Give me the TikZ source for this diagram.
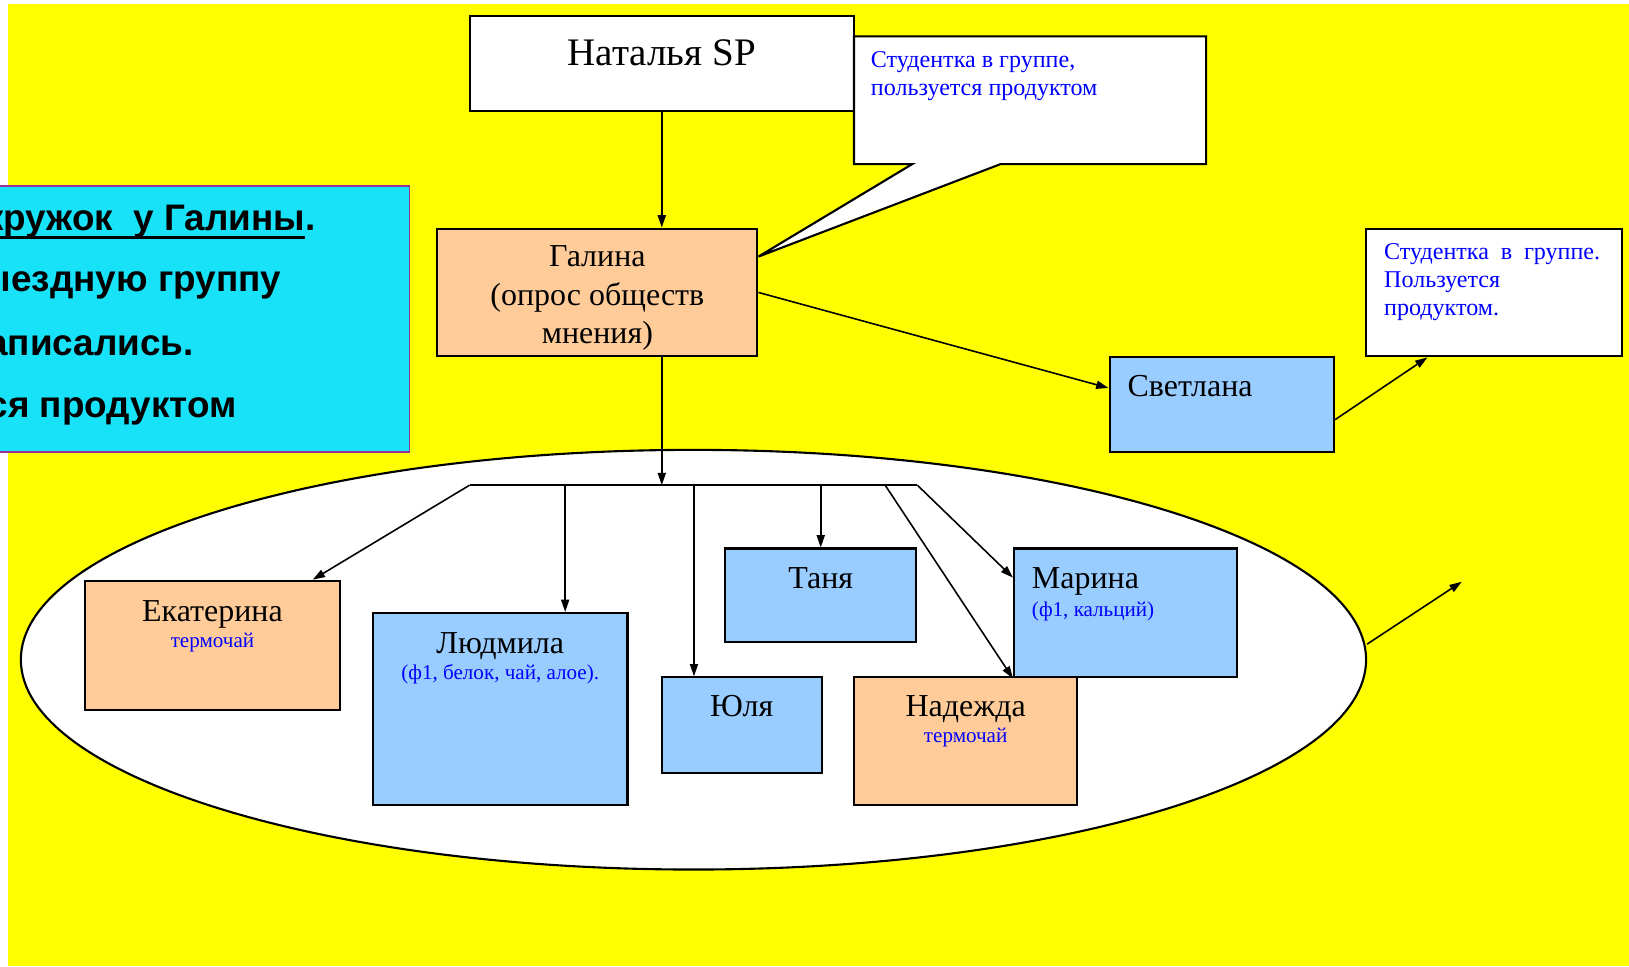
\documentclass[tikz,border=0pt]{standalone}
\usepackage{fontspec}
\setmainfont{Liberation Serif}
\setsansfont{Liberation Sans}
\usetikzlibrary{arrows.meta,calc,fit,positioning,shapes.geometric}

\definecolor{bgyellow}{RGB}{255,255,0}
\definecolor{peach}{RGB}{255,204,153}
\definecolor{skyblue}{RGB}{153,204,255}
\definecolor{memocyan}{RGB}{24,226,248}
\definecolor{memoframe}{RGB}{153,51,153}

\newsavebox{\ulbox}
\newcommand{\ulspan}[1]{\sbox{\ulbox}{#1}\rlap{\rule[-4.6pt]{\wd\ulbox}{1.8pt}}\usebox{\ulbox}}

\begin{document}
\begin{tikzpicture}[x=0.02078cm, y=-0.02078cm,
    box_style/.style={draw=black, line width=1.2pt, inner sep=0pt},
    name_style/.style={inner sep=0pt, font=\fontsize{18.2}{22}\selectfont},
    note_style/.style={inner sep=0pt, text=blue, font=\fontsize{12}{14.5}\selectfont},
    call_style/.style={inner sep=0pt, text=blue, align=left, anchor=north west, font=\fontsize{13.7}{16.1}\selectfont},
    memo_style/.style={inner sep=0pt, anchor=base east, font=\sffamily\bfseries\fontsize{21}{24}\selectfont},
    arrow_style/.style={draw=black, line width=0.9pt, -{Triangle[length=7pt,width=4.6pt]}},
    line_style/.style={draw=black, line width=0.9pt}]

  \clip (0,0) rectangle (1568,930);
  \fill[white] (0,0) rectangle (1568,930);
  \fill[bgyellow] (7.7,3.85) rectangle (1568,930);

  % the group
  \node[ellipse, draw=black, line width=1.2pt, fill=white, inner sep=0pt,
        minimum width=26.91cm, minimum height=8.395cm] (group) at (667.5,635) {};

  % memo on the left
  \node[box_style, draw=memoframe, line width=0.8pt, fill=memocyan, fit={(-20,179) (394,435)}] (memo) {};
  \node[memo_style] (memo_1) at (304,222) {\ulspan{кружок\ \ у Галины}.};
  \node[memo_style] (memo_2) at (271,281) {ыездную группу};
  \node[memo_style] (memo_3) at (187,342) {аписались.};
  \node[memo_style] (memo_4) at (228,402) {ся продуктом};

  % top of the tree
  \node[box_style, fill=white, fit={(452,15) (822,107)}] (nat) {};
  \node[inner sep=0pt, anchor=base, font=\fontsize{22.2}{26}\selectfont] (nat_name) at (637,63) {Наталья SP};

  \node[box_style, fill=peach, fit={(421,220) (729,343)}] (gal) {};
  \node[name_style, anchor=north, align=center, font=\fontsize{18.2}{21.8}\selectfont] (gal_name) at (575,236.5)
    {Галина\\(опрос обществ\\мнения)};

  % callout for Galina
  \filldraw[fill=white, draw=black, line width=1.2pt]
    (822,35) -- (1161,35) -- (1161,158) -- (963,158) -- ($(gal.east)+(0,-34.5)$) -- (878,158) -- (822,158) -- cycle;
  \node[call_style] (call_gal) at (838,49) {Студентка в группе,\\пользуется продуктом};

  \node[box_style, fill=skyblue, fit={(1068,344) (1284,435)}] (svet) {};
  \node[name_style, anchor=base west] (svet_name) at (1085,382) {Светлана};

  \node[box_style, fill=white, fit={(1315,220) (1561,343)}] (call_svet) {};
  \node[call_style] (call_svet_text) at (1332,234)
    {\makebox[4.32cm][s]{Студентка в группе.}\\Пользуется\\продуктом.};

  % members
  \node[box_style, fill=peach, fit={(82,559) (327,683)}] (ekat) {};
  \node[name_style, anchor=base] (ekat_name) at (204.5,598) {Екатерина};
  \node[note_style, anchor=base] (ekat_note) at (204.5,623) {термочай};

  \node[box_style, fill=skyblue, fit={(359,590) (604,775)}] (lyud) {};
  \node[name_style, anchor=base] (lyud_name) at (481.5,629) {Людмила};
  \node[note_style, anchor=base] (lyud_note) at (481.5,654) {(ф1, белок, чай, алое).};

  \node[box_style, fill=skyblue, fit={(637,652) (791,744)}] (yulia) {};
  \node[name_style, anchor=base] (yulia_name) at (714,690) {Юля};

  \node[box_style, fill=skyblue, fit={(698,528) (882,618)}] (tanya) {};
  \node[name_style, anchor=base] (tanya_name) at (790,566) {Таня};

  \node[box_style, fill=skyblue, fit={(976,528) (1191,652)}] (marina) {};
  \node[name_style, anchor=base west] (marina_name) at (993,566) {Марина};
  \node[note_style, anchor=base west] (marina_note) at (993,593) {(ф1, кальций)};

  \node[box_style, fill=peach, fit={(822,652) (1037,775)}] (nad) {};
  \node[name_style, anchor=base] (nad_name) at (929.5,690) {Надежда};
  \node[note_style, anchor=base] (nad_note) at (929.5,715) {термочай};

  % connectors
  \coordinate (bar_l) at (452,467);
  \coordinate (bar_c) at (637,467);
  \coordinate (bar_r) at (883,467);
  \coordinate (free_end) at (1407,560);

  \draw[arrow_style] (nat.south) -- (nat.south |- gal.north);
  \draw[arrow_style] (nat.south |- gal.south) -- (bar_c);
  \draw[arrow_style] (gal.east) -- ($(svet.west)+(0,-16)$);
  \draw[arrow_style] ($(svet.east)+(0,14.5)$) -- ($(call_svet.south west)+(60,0)$);
  \draw[line_style] (bar_l) -- (bar_r);
  \draw[arrow_style] (bar_l) -- ($(ekat.north east)+(-27,0)$);
  \draw[arrow_style] (bar_l -| 544,0) -- (lyud.north -| 544,0);
  \draw[arrow_style] (bar_l -| 668,0) -- (yulia.north -| 668,0);
  \draw[arrow_style] (bar_l -| tanya.north) -- (tanya.north);
  \draw[arrow_style] (bar_l -| 852,0) -- (marina.south west);
  \draw[arrow_style] (bar_r) -- ($(marina.north west)+(0,29)$);
  \draw[arrow_style] ($(group.east)+(0,-15)$) -- (free_end);
\end{tikzpicture}
\end{document}
